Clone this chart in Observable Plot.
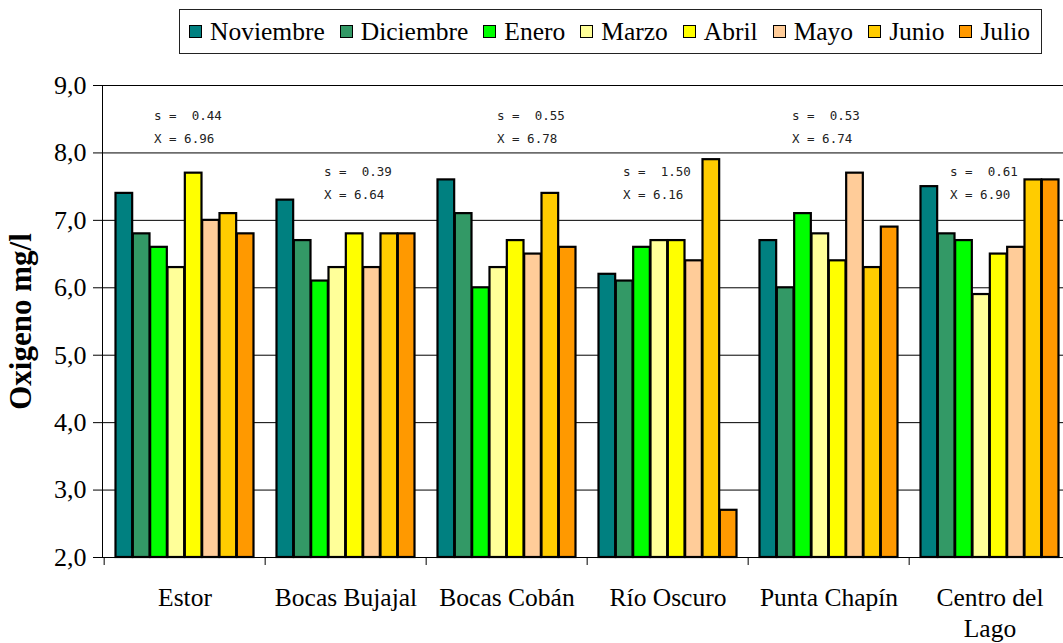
<!DOCTYPE html>
<html>
<head>
<meta charset="utf-8">
<script src="https://cdn.jsdelivr.net/npm/d3@7"></script>
<script src="https://cdn.jsdelivr.net/npm/@observablehq/plot@0.6"></script>
<style>
  body { margin: 0; background: #fff; width: 1063px; height: 643px; overflow: hidden; font-family: "Liberation Serif", "Times New Roman", serif; }
  #legend { position: relative; height: 62px; }
  #legend .box { position: absolute; left: 179px; top: 9px; height: 43px; border: 1px solid #222; display: flex; align-items: center; padding: 0 11px 0 9px; gap: 15px; font-family: "Liberation Serif", serif; font-size: 25.5px; color: #000; white-space: nowrap; }
  #legend .item { display: flex; align-items: center; }
  #legend .sw { width: 11px; height: 11px; border: 1.5px solid #000; margin-right: 8px; }
  #chart svg { display: block; }
</style>
</head>
<body>
<div id="legend"><div class="box"></div></div>
<div id="chart"></div>
<script>
// Sampling sites along the x axis
const locations = ["Estor", "Bocas Bujajal", "Bocas Cobán", "Río Oscuro", "Punta Chapín", "Centro del Lago"];
const locationLabels = ["Estor", "Bocas Bujajal", "Bocas Cobán", "Río Oscuro", "Punta Chapín", "Centro del\nLago"];

// Sampling months (series)
const months = ["Noviembre", "Diciembre", "Enero", "Marzo", "Abril", "Mayo", "Junio", "Julio"];
const monthColors = ["#008080", "#339966", "#00ff00", "#ffff99", "#ffff00", "#ffcc99", "#ffcc00", "#ff9900"];

// Dissolved oxygen (mg/l) per site, one value per month
const estor        = [7.4, 6.8, 6.6, 6.3, 7.7, 7.0, 7.1, 6.8];
const bocasBujajal = [7.3, 6.7, 6.1, 6.3, 6.8, 6.3, 6.8, 6.8];
const bocasCoban   = [7.6, 7.1, 6.0, 6.3, 6.7, 6.5, 7.4, 6.6];
const rioOscuro    = [6.2, 6.1, 6.6, 6.7, 6.7, 6.4, 7.9, 2.7];
const puntaChapin  = [6.7, 6.0, 7.1, 6.8, 6.4, 7.7, 6.3, 6.9];
const centroLago   = [7.5, 6.8, 6.7, 5.9, 6.5, 6.6, 7.6, 7.6];

// Per-site summary statistics (standard deviation and mean)
const sdValues   = [0.44, 0.39, 0.55, 1.50, 0.53, 0.61];
const meanValues = [6.96, 6.64, 6.78, 6.16, 6.74, 6.90];

// Y axis ticks
const yTicks = [2, 3, 4, 5, 6, 7, 8, 9];

const series = [estor, bocasBujajal, bocasCoban, rioOscuro, puntaChapin, centroLago];
const rows = locations.flatMap((location, li) =>
  series[li].map((value, mi) => ({location, month: months[mi], value}))
);
const notes = locations.map((location, i) => ({location, sd: sdValues[i], mean: meanValues[i]}));

// Legend
const box = document.querySelector("#legend .box");
months.forEach((m, i) => {
  const item = document.createElement("div");
  item.className = "item";
  const sw = document.createElement("span");
  sw.className = "sw";
  sw.style.background = monthColors[i];
  const label = document.createElement("span");
  label.textContent = m;
  item.append(sw, label);
  box.append(item);
});

// Layout
const width = 1063, height = 581;
const marginLeft = 102, marginRight = -9, marginTop = 23, marginBottom = 86;
const step = (width - marginLeft - marginRight) / locations.length;
const groupPad = 11.5;
const barW = (step - 2 * groupPad) / months.length;
const serif = "Liberation Serif, Times New Roman, serif";

// Horizontal offsets of the statistics boxes relative to each site's centre
const noteDx = [-31, -22, -10, -45, -37, -40];
const noteFont = {fontFamily: "DejaVu Sans Mono", fontSize: 12.5, fill: "#222", textAnchor: "start", lineAnchor: "middle"};

const bars = months.map((m, i) =>
  Plot.barY(rows.filter(d => d.month === m), {
    x: "location",
    y1: yTicks[0],
    y2: "value",
    fill: monthColors[i],
    stroke: "#000",
    strokeWidth: 2.2,
    insetLeft: groupPad + i * barW,
    insetRight: groupPad + (months.length - 1 - i) * barW
  })
);

const noteMarks = notes.flatMap((n, i) => {
  const dy = i % 2 ? 86 : 30;
  return [
    Plot.text([n], {x: "location", frameAnchor: "top", dx: noteDx[i], dy, text: d => `s =  ${d.sd.toFixed(2)}`, ...noteFont}),
    Plot.text([n], {x: "location", frameAnchor: "top", dx: noteDx[i], dy: dy + 23, text: d => `X = ${d.mean.toFixed(2)}`, ...noteFont})
  ];
});

const chart = Plot.plot({
  width, height, marginLeft, marginRight, marginTop, marginBottom,
  style: {fontFamily: serif, fontSize: "24px", color: "#000", background: "#fff"},
  x: {domain: locations, padding: 0},
  y: {domain: [2, 9]},
  marks: [
    Plot.ruleY(yTicks, {stroke: "#000", strokeWidth: 1}),
    ...bars,
    Plot.frame({anchor: "left", stroke: "#000"}),
    Plot.axisY({ticks: yTicks, tickSize: 9, tickPadding: 7, fontSize: 26, fontFamily: serif, label: null,
      tickFormat: d => d.toFixed(1).replace(".", ",")}),
    Plot.axisX({tickSize: 8, tickFormat: () => "", dx: -step / 2, label: null}),
    Plot.text(locations, {x: d => d, text: (d, i) => locationLabels[i], frameAnchor: "bottom",
      dy: 26, lineAnchor: "top", lineHeight: 1.22, fontSize: 25.5, fontFamily: serif, fill: "#000"}),
    Plot.text(["Oxigeno mg/l"], {frameAnchor: "left", textAnchor: "middle", rotate: -90, dx: -81, fontSize: 31,
      fontWeight: "bold", fontFamily: serif, fill: "#000"}),
    ...noteMarks
  ]
});
document.getElementById("chart").append(chart);
</script>
</body>
</html>
